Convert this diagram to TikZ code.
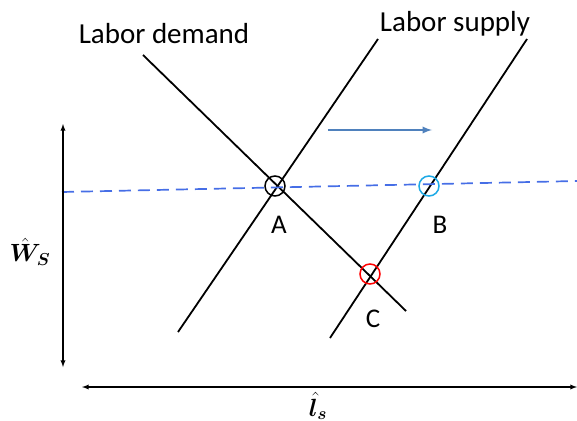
\documentclass[tikz,border=0pt]{standalone}
\usepackage{amsmath}
\usepackage{bm}
\usepackage{fontspec}
\setmainfont{Carlito}
\usetikzlibrary{arrows, positioning}
\definecolor{wageblue}{RGB}{70,110,230}
\definecolor{shiftblue}{RGB}{79,129,189}
\definecolor{ringcyan}{RGB}{30,170,230}
\tikzstyle{curve} = [draw, line width=1.8pt]
\tikzstyle{ring} = [draw, circle, line width=1.5pt, minimum size=20pt, inner sep=0pt]
\tikzstyle{axis} = [draw, line width=1.3pt, latex-latex]
\tikzstyle{tag} = [font=\fontsize{27}{30}\selectfont, inner sep=0pt]
\tikzstyle{title} = [font=\fontsize{29}{32}\selectfont, inner sep=0pt]

\begin{document}
\begin{tikzpicture}[x=1pt, y=-1pt]
		\useasboundingbox (0,0) rectangle (577,420);
		% line end points
		\coordinate (dtop) at (143,55);
		\coordinate (dbot) at (406,311);
		\coordinate (s1top) at (378,39);
		\coordinate (s1bot) at (178,332);
		\coordinate (s2top) at (527,39);
		\coordinate (s2bot) at (330,338);
		\coordinate (wl) at (62,192);
		\coordinate (wr) at (577,181);
		\coordinate (vtop) at (63,124);
		\coordinate (vbot) at (63,367);
		\coordinate (hl) at (82,387);
		\coordinate (hr) at (577,387);
		\coordinate (sl) at (328,130);
		\coordinate (sr) at (432,130);
	
		\path [curve] (dtop) -- (dbot);
		\path [curve] (s1top) -- (s1bot);
		\path [curve] (s2top) -- (s2bot);
		\path [draw, wageblue, line width=1.7pt, dash pattern=on 12pt off 7pt] (wl) -- (wr);
		\path [draw, shiftblue, line width=2.2pt, -latex] (sl) -- (sr);
		\path [axis] (vtop) -- (vbot);
		\path [axis] (hl) -- (hr);
	
		\node [ring, black] (ptA) at (275,186) {};
		\node [ring, ringcyan] (ptB) at (429,186) {};
		\node [ring, red] (ptC) at (370,274) {};
		\node [tag] (labA) at (279,225) {A};
		\node [tag] (labB) at (440,225) {B};
		\node [tag] (labC) at (373,319) {C};
		\node [title] (dem) at (164,33.5) {Labor demand};
		\node [title] (sup) at (455,24) {Labor supply};
		\node [font=\fontsize{25}{28}\selectfont] (wage) at (30,252) {$\bm{\hat{W}_S}$};
		\node [font=\fontsize{25}{28}\selectfont] (lab) at (318,406) {$\bm{\hat{l}_s}$};
	\end{tikzpicture}
\end{document}
